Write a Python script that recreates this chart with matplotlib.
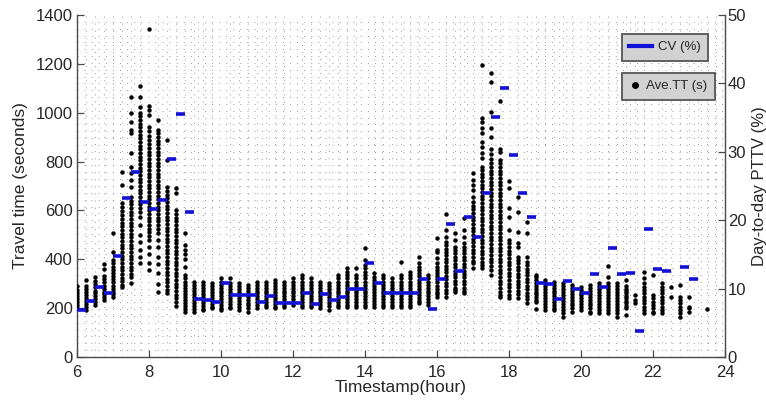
import numpy as np
import matplotlib
matplotlib.use("Agg")
import matplotlib.pyplot as plt
from matplotlib.ticker import MultipleLocator
from matplotlib.lines import Line2D

# ---------------- data ----------------
# Daily average travel time (s) per 15-minute slot, grouped by hour (4 slots per hour)
tt_06 = [[290, 275, 262, 250, 238, 225, 213, 200],
         [315, 290, 278, 265, 252, 240, 228, 215, 203, 192],
         [326, 310, 298, 285, 272, 260, 248, 236, 225, 213],
         [381, 359, 330, 318, 305, 292, 280, 268, 256, 244, 233]]
tt_07 = [[506, 431, 397, 383, 370, 357, 344, 331, 318, 305, 292, 280, 268, 256, 244],
         [759, 704, 629, 612, 596, 580, 565, 550, 535, 520, 505, 490, 475, 460, 445, 430,
          415, 400, 385, 370, 355, 340, 325, 310, 295, 285],
         [1066, 998, 963, 929, 916, 834, 779, 752, 725, 697, 656, 640, 625, 610, 595, 580,
          565, 550, 535, 520, 505, 490, 475, 460, 445, 430, 415, 400, 385, 370, 355, 340, 329, 302],
         [1110, 1066, 1025, 1000, 985, 970, 955, 940, 925, 910, 895, 880, 865, 850, 835, 820,
          805, 790, 775, 760, 745, 730, 715, 700, 685, 670, 655, 640, 625, 610, 595, 575,
          540, 500, 470, 440, 410, 385]]
tt_08 = [[1341, 1028, 1011, 991, 943, 925, 905, 888, 870, 855, 840, 825, 810, 795, 780, 765,
          750, 735, 720, 705, 690, 675, 660, 645, 630, 615, 600, 585, 570, 555, 540, 525,
          510, 495, 479, 450, 420, 383, 356],
         [970, 929, 916, 900, 885, 870, 855, 840, 825, 810, 795, 780, 765, 750, 735, 720,
          705, 690, 675, 660, 645, 630, 615, 600, 585, 570, 555, 540, 525, 506, 480, 450,
          411, 380, 342, 300, 265],
         [888, 806, 697, 680, 665, 650, 635, 620, 605, 590, 575, 560, 545, 530, 515, 500,
          485, 470, 455, 440, 425, 410, 395, 380, 365, 350, 335, 320, 305, 290, 275, 261],
         [691, 670, 602, 585, 570, 555, 540, 525, 510, 495, 480, 465, 450, 435, 420, 405,
          390, 375, 360, 345, 330, 315, 300, 285, 270, 255, 240, 225, 210]]
tt_09 = [[506, 460, 440, 420, 400, 370, 336, 322, 308, 295, 282, 270, 258, 246, 234, 222, 210, 198, 186],
         [308, 295, 282, 270, 258, 246, 234, 222, 210, 198, 186],
         [308, 295, 282, 270, 258, 246, 234, 222, 210, 198, 192],
         [302, 290, 278, 266, 254, 242, 230, 218, 206, 199]]
tt_10 = [[322, 308, 296, 284, 272, 260, 248, 236, 224, 212, 200, 192],
         [322, 302, 290, 278, 266, 254, 242, 230, 218, 206, 199],
         [302, 290, 278, 266, 254, 242, 230, 218, 206, 192],
         [295, 283, 271, 259, 247, 235, 223, 211, 199, 186]]
tt_11 = [[308, 296, 284, 272, 260, 248, 236, 224, 212, 199],
         [308, 296, 284, 272, 260, 248, 236, 224, 212, 206],
         [315, 302, 290, 278, 266, 254, 242, 230, 218, 206, 199],
         [308, 296, 284, 272, 260, 248, 236, 224, 212, 206]]
tt_12 = [[322, 308, 296, 284, 272, 260, 248, 236, 224, 213],
         [336, 322, 308, 296, 284, 272, 260, 248, 236, 224, 212, 206],
         [322, 308, 296, 284, 272, 260, 248, 236, 224, 212, 206],
         [308, 296, 284, 272, 260, 248, 236, 224, 212, 199]]
tt_13 = [[304, 292, 280, 268, 256, 244, 232, 220, 208, 192],
         [336, 322, 308, 296, 284, 272, 260, 248, 236, 224, 212, 206],
         [363, 349, 336, 322, 308, 296, 284, 272, 260, 248, 236, 224, 212, 206],
         [363, 336, 322, 308, 296, 284, 272, 260, 248, 236, 224, 212, 206]]
tt_14 = [[448, 397, 377, 363, 349, 336, 322, 308, 296, 284, 272, 260, 248, 236, 224, 212, 206],
         [343, 329, 315, 302, 290, 278, 266, 254, 242, 230, 218, 206],
         [336, 322, 308, 296, 284, 272, 260, 248, 236, 224, 212, 206],
         [322, 308, 296, 284, 272, 260, 248, 236, 224, 212, 206]]
tt_15 = [[388, 336, 322, 308, 296, 284, 272, 260, 248, 236, 224, 212, 206],
         [349, 336, 322, 308, 296, 284, 272, 260, 248, 236, 224, 212, 206],
         [411, 385, 370, 356, 343, 330, 317, 304, 291, 278, 265, 252, 240, 228, 220],
         [336, 322, 308, 296, 284, 272, 260, 248, 236, 224, 212]]
tt_16 = [[486, 438, 431, 405, 383, 370, 357, 344, 331, 318, 305, 292, 280, 268, 256, 247],
         [584, 520, 493, 472, 458, 444, 430, 416, 402, 388, 374, 360, 346, 332, 318, 304,
          290, 276, 262, 247],
         [506, 480, 452, 438, 424, 410, 396, 382, 368, 354, 340, 326, 312, 298, 284, 274, 267],
         [568, 520, 490, 465, 452, 438, 424, 410, 396, 382, 368, 354, 340, 326, 312, 298, 284, 270, 260]]
tt_17 = [[752, 725, 704, 684, 657, 636, 620, 605, 590, 575, 560, 545, 530, 515, 500, 485,
          470, 455, 440, 425, 410, 395, 383, 363],
         [1195, 977, 963, 936, 916, 882, 860, 835, 815, 779, 765, 750, 735, 720, 705, 690,
          675, 660, 645, 630, 615, 600, 585, 570, 555, 540, 525, 510, 495, 480, 465, 450,
          435, 420, 405, 390, 375, 363],
         [1161, 1127, 1004, 936, 902, 852, 830, 810, 793, 778, 763, 748, 733, 718, 703, 688,
          673, 658, 643, 628, 613, 598, 583, 568, 553, 538, 523, 508, 493, 478, 463, 448,
          433, 418, 403, 388, 373, 358, 336],
         [1049, 850, 840, 806, 793, 778, 763, 748, 733, 718, 703, 688, 673, 658, 643, 628,
          613, 598, 583, 568, 553, 538, 523, 508, 493, 478, 463, 448, 433, 418, 403, 388,
          373, 358, 343, 328, 313, 298, 283, 268, 255, 247]]
tt_18 = [[720, 690, 609, 575, 520, 479, 465, 450, 435, 420, 405, 390, 375, 360, 345, 330,
          315, 300, 285, 270, 255, 240],
         [656, 595, 513, 465, 450, 411, 397, 383, 369, 355, 341, 327, 313, 299, 285, 271, 257, 240],
         [554, 506, 411, 390, 376, 362, 348, 334, 320, 306, 292, 278, 264, 250, 236, 220],
         [336, 329, 316, 304, 292, 280, 268, 256, 244, 232, 227, 195]]
tt_19 = [[315, 302, 290, 278, 266, 254, 242, 230, 218, 206, 192],
         [308, 296, 284, 272, 260, 248, 236, 224, 212, 200, 192],
         [302, 290, 278, 266, 254, 242, 230, 218, 206, 194, 182, 165],
         [295, 283, 271, 259, 247, 235, 223, 211, 199, 186]]
tt_20 = [[288, 276, 264, 252, 240, 228, 216, 204, 192],
         [295, 283, 271, 259, 247, 235, 223, 211, 199, 186, 179],
         [302, 290, 278, 266, 254, 242, 230, 218, 206, 194, 179],
         [373, 329, 302, 290, 278, 266, 254, 242, 230, 218, 206, 194, 179]]
tt_21 = [[302, 290, 278, 266, 254, 242, 230, 218, 206, 194, 182, 165],
         [315, 290, 280, 270, 260, 250, 240, 230, 220, 210, 200, 172],
         [254, 235, 220],
         [349, 322, 302, 288, 274, 260, 247, 233, 220, 206, 193, 179]]
tt_22 = [[336, 254, 240, 227, 213, 199, 186, 179],
         [302, 288, 274, 260, 247, 233, 220, 206, 193, 179],
         [288, 247],
         [295, 247, 233, 220, 206, 193, 179, 165]]
tt_23 = [[247, 206, 199, 186],
         [],
         [195]]

tt_hours = [6, 7, 8, 9, 10, 11, 12, 13, 14, 15, 16, 17, 18, 19, 20, 21, 22, 23]
tt_groups = [tt_06, tt_07, tt_08, tt_09, tt_10, tt_11, tt_12, tt_13, tt_14, tt_15,
             tt_16, tt_17, tt_18, tt_19, tt_20, tt_21, tt_22, tt_23]

# Day-to-day PTTV / CV (%) per 15-minute slot starting 6:00 (last slot 23:00)
cv_pct = [6.8, 8.2, 10.3, 9.3,
          14.8, 23.2, 27.1, 22.7,
          21.7, 23.0, 28.9, 35.5,
          21.2, 8.5, 8.3, 8.1,
          10.8, 9.0, 9.0, 9.0,
          8.1, 8.9, 7.9, 7.9,
          7.9, 9.3, 7.7, 9.2,
          8.3, 8.7, 9.9, 9.9,
          13.8, 10.8, 9.3, 9.3,
          9.3, 9.3, 11.4, 7.0,
          11.4, 19.5, 12.6, 20.4,
          17.6, 24.0, 35.1, 39.3,
          29.6, 24.0, 20.5, 10.8,
          10.6, 8.5, 11.1, 9.9,
          9.3, 12.1, 10.3, 16.0,
          12.1, 12.3, 3.8, 18.7,
          12.9, 12.6, np.nan, 13.2,
          11.4]
slot_len = 0.25

x_ticks = [6, 8, 10, 12, 14, 16, 18, 20, 22, 24]
y_ticks = [0, 200, 400, 600, 800, 1000, 1200, 1400]
y2_ticks = [0, 10, 20, 30, 40, 50]

# ---------------- style ----------------
plt.rcParams["font.family"] = ["Liberation Sans", "DejaVu Sans"]
plt.rcParams["lines.scale_dashes"] = False
txt_col = "#262626"
spine_col = "#4a4a4a"
blue = "#1212d6"

fig = plt.figure(figsize=(7.66, 4.03), dpi=100)
ax = fig.add_axes([77 / 766, 46 / 403, 648 / 766, 342 / 403])
ax2 = ax.twinx()

# dots
for hr, grp in zip(tt_hours, tt_groups):
    for k, vals in enumerate(grp):
        if len(vals) == 0:
            continue
        t = hr + k * slot_len
        ax.plot(np.full(len(vals), t), vals, linestyle="none", marker="o",
                ms=3.2, mfc="black", mec="black", mew=0, zorder=3)

# CV dashes
starts = 6 + slot_len * np.arange(len(cv_pct))
cv = np.array(cv_pct)
ok = ~np.isnan(cv)
ax2.hlines(cv[ok], starts[ok], starts[ok] + slot_len, colors=blue, lw=2.6, zorder=4)

# axes limits / ticks
ax.set_xlim(6, 24)
ax.set_ylim(0, 1400)
ax2.set_ylim(0, 50)
ax.set_xticks(x_ticks)
ax.set_yticks(y_ticks)
ax2.set_yticks(y2_ticks)
ax.xaxis.set_minor_locator(MultipleLocator(0.25))
ax.yaxis.set_minor_locator(MultipleLocator(1400 / 50))
ax.grid(which="minor", color="#9a9a9a", linestyle=(0, (0.7, 4.4)), linewidth=0.7)
ax.grid(which="major", visible=False)
ax.set_axisbelow(True)

for a in (ax, ax2):
    a.spines["top"].set_visible(False)
    for s in a.spines.values():
        s.set_color(spine_col)
        s.set_linewidth(1.0)
ax.spines["right"].set_visible(False)
ax2.spines["left"].set_visible(False)
ax2.spines["bottom"].set_visible(False)

ax.tick_params(which="major", direction="in", length=5, width=0.9, color=spine_col,
               labelsize=12, labelcolor=txt_col, pad=3, top=False, right=False)
ax.tick_params(axis="x", which="major", pad=6)
ax.tick_params(which="minor", length=0)
ax2.tick_params(which="major", direction="in", length=5, width=0.9, color=spine_col,
                labelsize=12, labelcolor=txt_col, pad=2)

ax.set_xlabel("Timestamp(hour)", fontsize=12.5, color=txt_col, labelpad=0)
ax.set_ylabel("Travel time (seconds)", fontsize=12.5, color=txt_col)
ax2.set_ylabel("Day-to-day PTTV (%)", fontsize=12, color=txt_col)
ax.yaxis.set_label_coords(-0.076, 0.5)
ax2.yaxis.set_label_coords(1.042, 0.5)

# legends (two separate boxes)
h1 = [Line2D([], [], color=blue, lw=3)]
h2 = [Line2D([], [], color="black", marker="o", ms=4, linestyle="none")]
leg_kw = dict(frameon=True, fancybox=False, facecolor="#d2d2d2", edgecolor="#555555",
              framealpha=1, fontsize=9.5, borderpad=0.55, handletextpad=0.5,
              borderaxespad=0, labelcolor=txt_col, loc="upper left")
l1 = ax2.legend(h1, ["CV (%)"], handlelength=1.7,
                bbox_to_anchor=(622 / 766, 369 / 403), bbox_transform=fig.transFigure, **leg_kw)
l1.get_frame().set_linewidth(1.3)
ax2.add_artist(l1)
l2 = ax2.legend(h2, ["Ave.TT (s)"], handlelength=0.8,
                bbox_to_anchor=(622 / 766, 330 / 403), bbox_transform=fig.transFigure, **leg_kw)
l2.get_frame().set_linewidth(1.3)

fig.savefig("out.png", dpi=100)
